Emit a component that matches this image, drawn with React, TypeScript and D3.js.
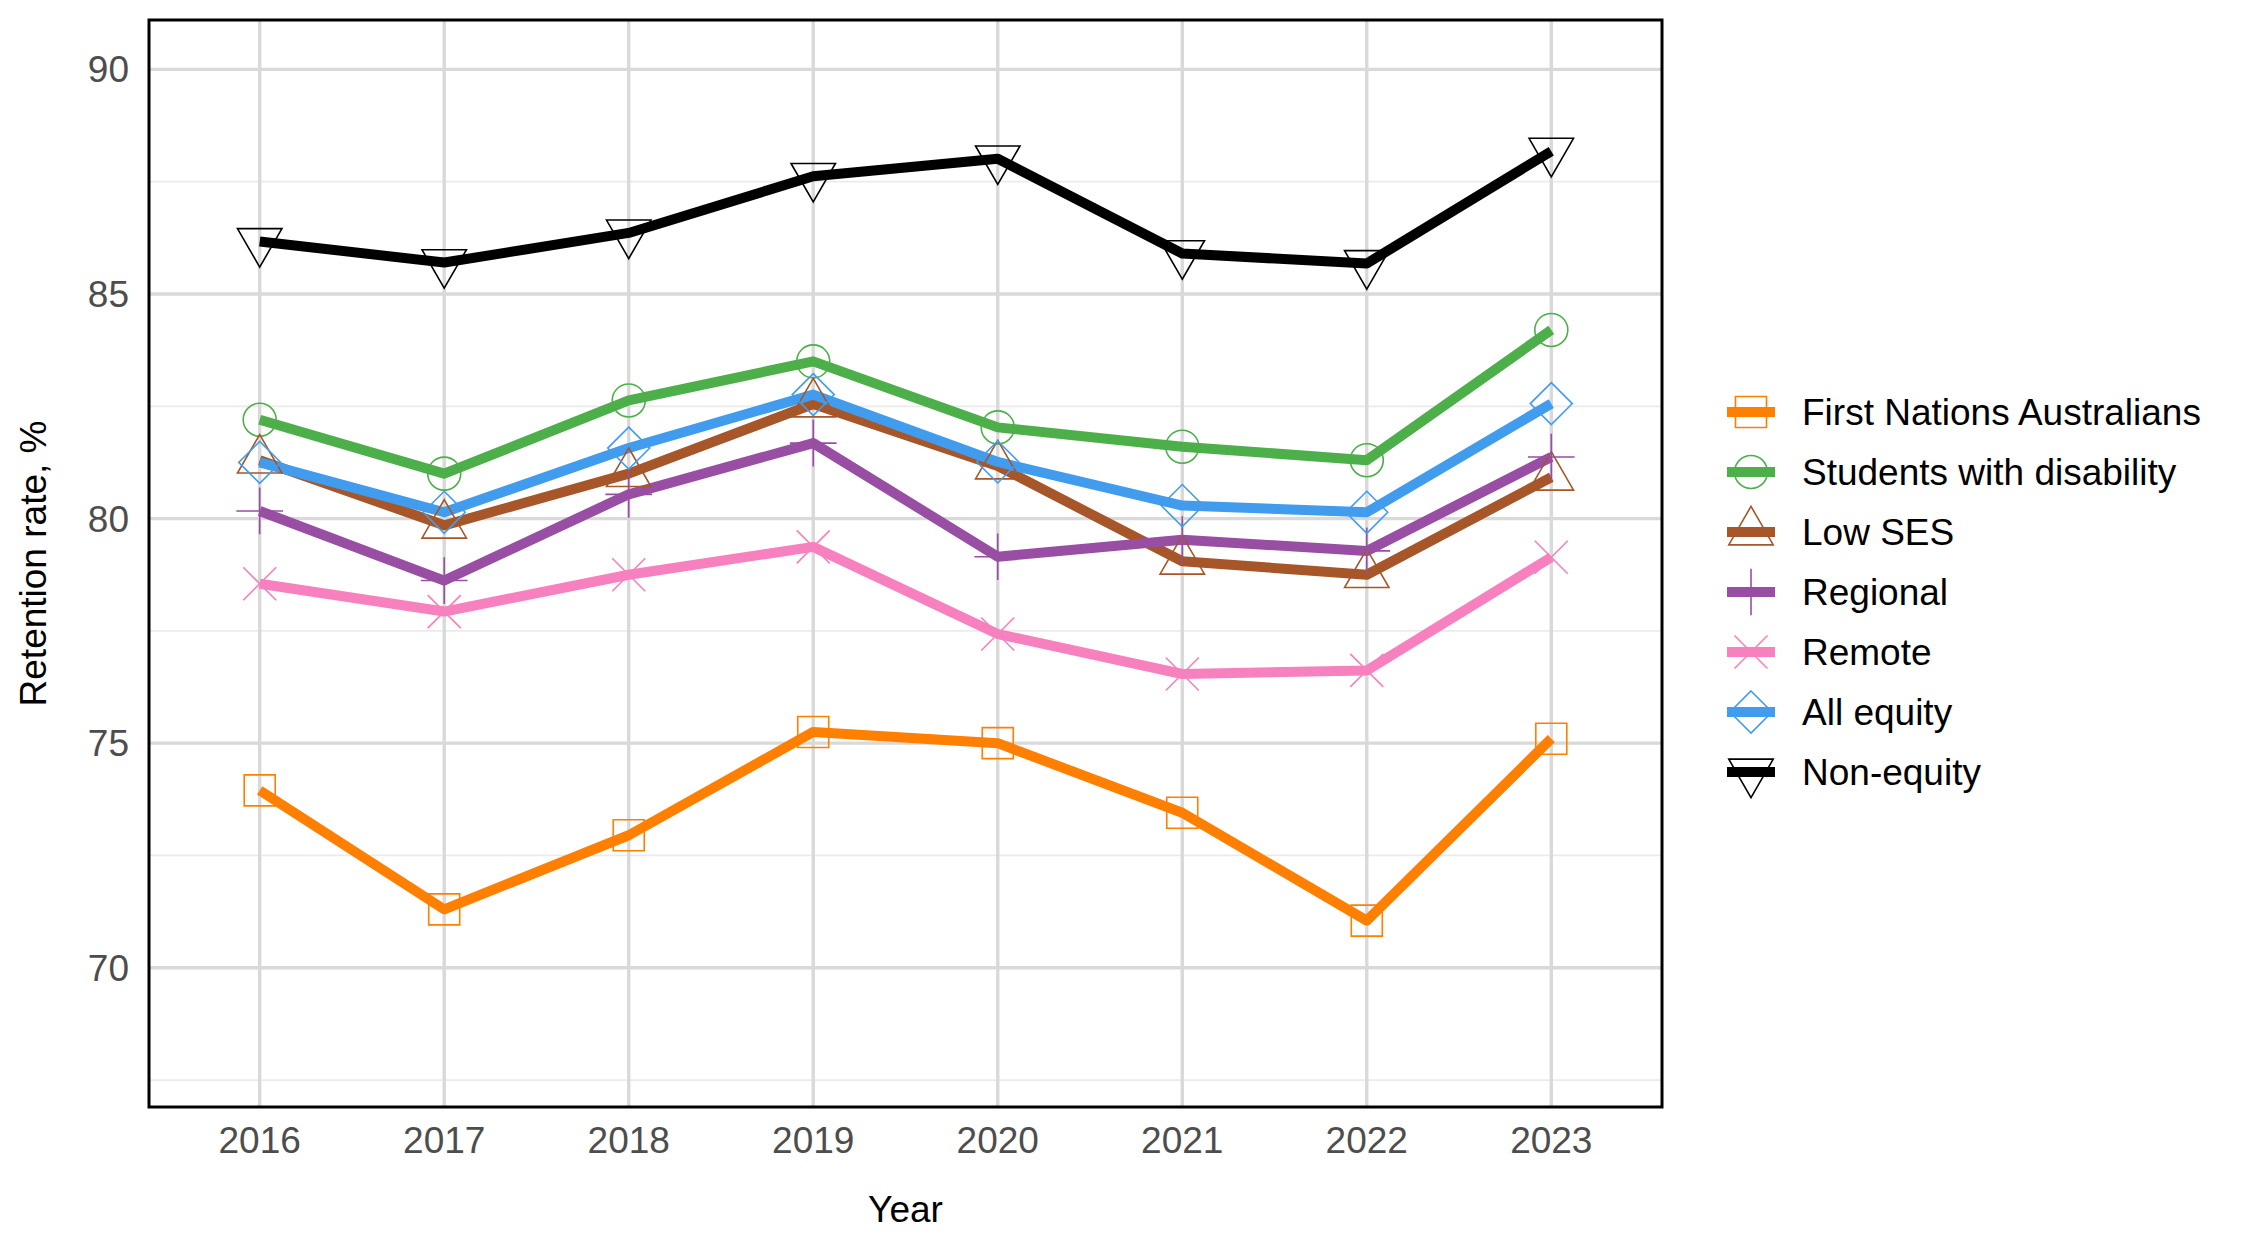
import * as d3 from "d3";

type Series = {
  name: string;
  color: string;
  shape: string;
  values: number[];
};

const years = [2016, 2017, 2018, 2019, 2020, 2021, 2022, 2023];

const firstNations = [73.95, 71.3, 72.95, 75.25, 75.0, 73.45, 71.05, 75.1];
const disability = [82.2, 81.0, 82.63, 83.5, 82.03, 81.6, 81.3, 84.2];
const lowSes = [81.3, 79.85, 81.0, 82.55, 81.17, 79.05, 78.75, 80.92];
const regional = [80.17, 78.62, 80.54, 81.68, 79.15, 79.53, 79.28, 81.37];
const remote = [78.55, 77.93, 78.75, 79.37, 77.43, 76.54, 76.62, 79.14];
const allEquity = [81.25, 80.14, 81.57, 82.76, 81.26, 80.29, 80.14, 82.56];
const nonEquity = [86.17, 85.7, 86.36, 87.62, 88.01, 85.9, 85.68, 88.18];

const yTicks = [70, 75, 80, 85, 90];
const yMinor = [67.5, 72.5, 77.5, 82.5, 87.5];

const series: Series[] = [
  { name: "First Nations Australians", color: "#FF7F00", shape: "square", values: firstNations },
  { name: "Students with disability", color: "#4DAF4A", shape: "circle", values: disability },
  { name: "Low SES", color: "#A65628", shape: "triangle", values: lowSes },
  { name: "Regional", color: "#984EA3", shape: "plus", values: regional },
  { name: "Remote", color: "#F781BF", shape: "cross", values: remote },
  { name: "All equity", color: "#429CEE", shape: "diamond", values: allEquity },
  { name: "Non-equity", color: "#000000", shape: "triangleDown", values: nonEquity },
];

const W = 2250;
const H = 1250;
const panel = { left: 149, right: 1662, top: 20, bottom: 1107 };
const font = "'Liberation Sans', Arial, Helvetica, sans-serif";

const R = 16.5;

// ggplot-like open shapes, centred on (0,0)
const shapePath = (shape: string) => {
  const c0 = 1.555 * R;
  const c1 = 1.347 * R;
  const c2 = 0.778 * R;
  switch (shape) {
    case "square": {
      const s = 15.5;
      return `M${-s},${-s}H${s}V${s}H${-s}Z`;
    }
    case "circle":
      return `M${-R},0A${R},${R} 0 1,0 ${R},0A${R},${R} 0 1,0 ${-R},0Z`;
    case "triangle":
      return `M0,${-c0}L${c1},${c2}L${-c1},${c2}Z`;
    case "triangleDown":
      return `M0,${c0}L${c1},${-c2}L${-c1},${-c2}Z`;
    case "plus": {
      const p = 1.414 * R;
      return `M${-p},0H${p}M0,${-p}V${p}`;
    }
    case "cross":
      return `M${-R},${-R}L${R},${R}M${-R},${R}L${R},${-R}`;
    case "diamond": {
      const d = 21;
      return `M0,${-d}L${d},0L0,${d}L${-d},0Z`;
    }
    default:
      return "";
  }
};

const App = () => {
  const x = d3
    .scaleLinear()
    .domain([years[0] - 0.6, years[years.length - 1] + 0.6])
    .range([panel.left, panel.right]);
  const y = d3.scaleLinear().domain([66.9, 91.1]).range([panel.bottom, panel.top]);

  const line = d3
    .line<number>()
    .x((_, i) => x(years[i]))
    .y((d) => y(d));

  const legendX = 1751;
  const legendY = 412;
  const legendStep = 60;

  return (
    <div style={{ position: "absolute", left: 0, top: 0 }}>
      <svg width={W} height={H} style={{ display: "block", background: "#fff" }}>
        <rect x={0} y={0} width={W} height={H} fill="#fff" />

        {/* grid */}
        {yMinor.map((t) => (
          <line key={"mn" + t} x1={panel.left} x2={panel.right} y1={y(t)} y2={y(t)} stroke="#ebebeb" strokeWidth={1.8} />
        ))}
        {yTicks.map((t) => (
          <line key={"mj" + t} x1={panel.left} x2={panel.right} y1={y(t)} y2={y(t)} stroke="#d9d9d9" strokeWidth={3.4} />
        ))}
        {years.map((yr) => (
          <line key={"v" + yr} x1={x(yr)} x2={x(yr)} y1={panel.top} y2={panel.bottom} stroke="#d9d9d9" strokeWidth={3.4} />
        ))}

        {/* lines */}
        {series.map((s) => (
          <path
            key={s.name}
            d={line(s.values) || ""}
            fill="none"
            stroke={s.color}
            strokeWidth={10}
            strokeLinejoin="round"
          />
        ))}

        {/* points */}
        {series.map((s) =>
          s.values.map((v, i) => (
            <path
              key={s.name + i}
              d={shapePath(s.shape)}
              transform={`translate(${x(years[i])},${y(v)})`}
              fill="none"
              stroke={s.color}
              strokeWidth={1.6}
            />
          ))
        )}

        {/* panel border */}
        <rect
          x={panel.left}
          y={panel.top}
          width={panel.right - panel.left}
          height={panel.bottom - panel.top}
          fill="none"
          stroke="#000"
          strokeWidth={3}
        />

        {/* y axis */}
        {yTicks.map((t) => (
          <text
            key={"yt" + t}
            x={129}
            y={y(t) + 13}
            textAnchor="end"
            fontFamily={font}
            fontSize={37}
            fill="#4d4d4d"
          >
            {t}
          </text>
        ))}
        <text
          transform={`translate(46,${(panel.top + panel.bottom) / 2}) rotate(-90)`}
          textAnchor="middle"
          fontFamily={font}
          fontSize={37}
          fill="#000"
        >
          Retention rate, %
        </text>

        {/* x axis */}
        {years.map((yr) => (
          <text
            key={"xt" + yr}
            x={x(yr)}
            y={1153}
            textAnchor="middle"
            fontFamily={font}
            fontSize={37}
            fill="#4d4d4d"
          >
            {yr}
          </text>
        ))}
        <text
          x={(panel.left + panel.right) / 2}
          y={1222}
          textAnchor="middle"
          fontFamily={font}
          fontSize={37}
          fill="#000"
        >
          Year
        </text>

        {/* legend */}
        {series.map((s, i) => {
          const cy = legendY + i * legendStep;
          return (
            <g key={"lg" + s.name}>
              <line x1={legendX - 24} x2={legendX + 24} y1={cy} y2={cy} stroke={s.color} strokeWidth={10} />
              <path
                d={shapePath(s.shape)}
                transform={`translate(${legendX},${cy})`}
                fill="none"
                stroke={s.color}
                strokeWidth={1.6}
              />
              <text x={1802} y={cy + 13} fontFamily={font} fontSize={37} fill="#000">
                {s.name}
              </text>
            </g>
          );
        })}
      </svg>
    </div>
  );
};

export default App;
